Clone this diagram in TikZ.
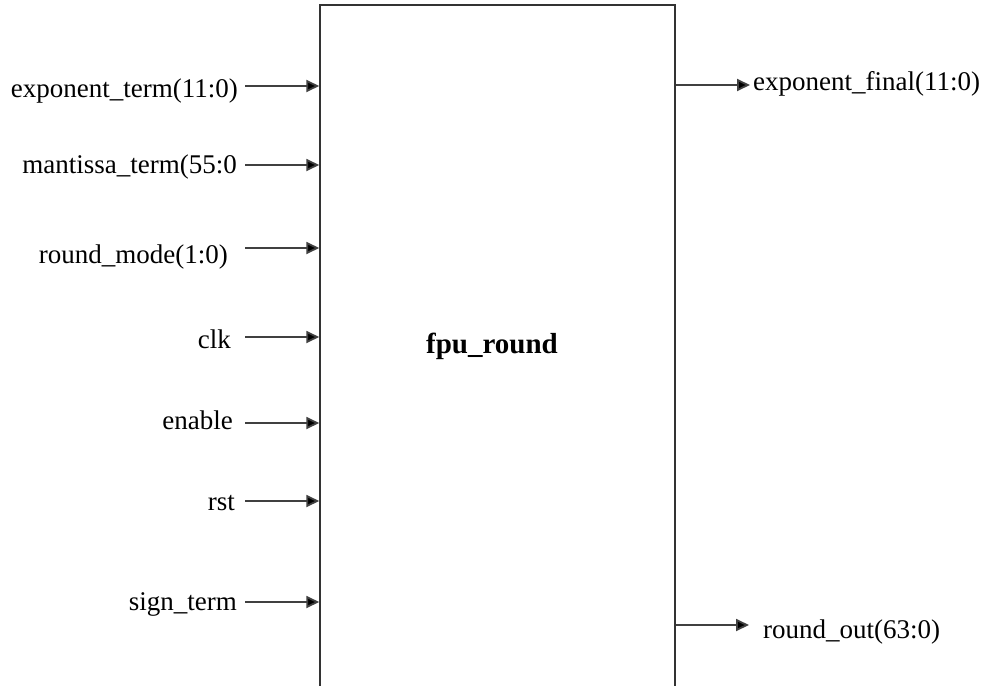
\documentclass[tikz,border=0pt]{standalone}
\usepackage{fontspec}
\setmainfont{Liberation Serif}
\usetikzlibrary{arrows.meta}
\begin{document}
\begin{tikzpicture}[x=1pt,y=-1pt,
  sig/.style={font=\fontsize{27}{30}\selectfont, inner sep=0pt},
  wire/.style={line width=1.8pt, draw=black!75, -{Triangle[length=13pt,width=12pt,fill=black]}},
  blk/.style={draw=black!80, line width=1.5pt, minimum width=355pt, minimum height=700pt, inner sep=0pt}]
\useasboundingbox (0,0) rectangle (984,685);
\clip (0,0) rectangle (984,685);
\fill[white] (0,0) rectangle (984,685);
\node[blk] (box) at (497.5,355) {};
\node[font=\fontsize{29}{32}\selectfont\bfseries, inner sep=0pt, anchor=base] (name) at (492,353) {fpu\_round};
% inputs
\node[sig, anchor=base east] (l1) at (238,97) {exponent\_term(11:0)};
\node[sig, anchor=base east] (l2) at (237,173) {mantissa\_term(55:0};
\node[sig, anchor=base east] (l3) at (228,263) {round\_mode(1:0)};
\node[sig, anchor=base east] (l4) at (231,348) {clk};
\node[sig, anchor=base east] (l5) at (233,429) {enable};
\node[sig, anchor=base east] (l6) at (235,510) {rst};
\node[sig, anchor=base east] (l7) at (237,610) {sign\_term};
\coordinate (i1) at (245,86);
\coordinate (i2) at (245,165);
\coordinate (i3) at (245,248);
\coordinate (i4) at (245,337);
\coordinate (i5) at (245,423);
\coordinate (i6) at (245,501);
\coordinate (i7) at (245,602);
\foreach \k in {1,...,7} \draw[wire] (i\k) -- (box.west |- i\k);
% outputs
\node[sig, anchor=base west] (o1) at (753,90) {exponent\_final(11:0)};
\node[sig, anchor=base west] (o2) at (763,638) {round\_out(63:0)};
\coordinate (e1) at (750,85);
\coordinate (e2) at (749,625);
\draw[wire] (box.east |- e1) -- (e1);
\draw[wire] (box.east |- e2) -- (e2);
\end{tikzpicture}
\end{document}
